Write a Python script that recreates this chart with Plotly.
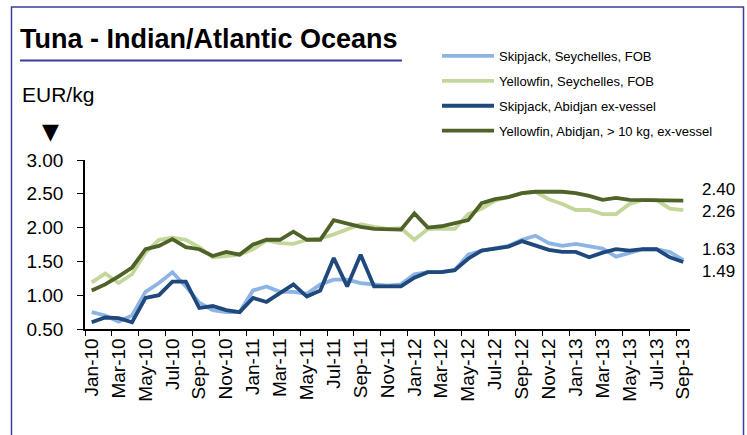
import plotly.graph_objects as go

months = ["Jan-10","Feb-10","Mar-10","Apr-10","May-10","Jun-10","Jul-10","Aug-10","Sep-10","Oct-10","Nov-10","Dec-10",
          "Jan-11","Feb-11","Mar-11","Apr-11","May-11","Jun-11","Jul-11","Aug-11","Sep-11","Oct-11","Nov-11","Dec-11",
          "Jan-12","Feb-12","Mar-12","Apr-12","May-12","Jun-12","Jul-12","Aug-12","Sep-12","Oct-12","Nov-12","Dec-12",
          "Jan-13","Feb-13","Mar-13","Apr-13","May-13","Jun-13","Jul-13","Aug-13","Sep-13"]

skipjack_seychelles = [0.75,0.70,0.61,0.70,1.05,1.18,1.34,1.13,0.89,0.78,0.75,0.75,
                       1.07,1.13,1.05,1.05,1.02,1.16,1.23,1.23,1.18,1.16,1.14,1.16,
                       1.31,1.34,1.34,1.37,1.60,1.66,1.69,1.73,1.82,1.88,1.77,1.73,
                       1.76,1.73,1.69,1.57,1.63,1.68,1.68,1.64,1.52]
yellowfin_seychelles = [1.19,1.32,1.18,1.31,1.63,1.82,1.85,1.82,1.71,1.56,1.58,1.60,
                        1.68,1.81,1.77,1.76,1.82,1.84,1.90,1.98,2.05,2.01,1.98,1.99,
                        1.82,1.98,1.98,1.98,2.20,2.28,2.40,2.45,2.51,2.53,2.42,2.35,
                        2.26,2.26,2.20,2.20,2.35,2.41,2.41,2.28,2.26]
skipjack_abidjan = [0.60,0.67,0.66,0.60,0.96,1.00,1.20,1.20,0.81,0.84,0.78,0.75,
                    0.96,0.90,1.03,1.16,0.98,1.07,1.55,1.13,1.60,1.13,1.13,1.13,
                    1.26,1.34,1.34,1.37,1.54,1.66,1.69,1.72,1.80,1.73,1.67,1.64,
                    1.64,1.56,1.63,1.68,1.66,1.68,1.68,1.56,1.49]
yellowfin_abidjan = [1.07,1.16,1.28,1.41,1.68,1.73,1.83,1.71,1.68,1.58,1.64,1.60,
                     1.75,1.82,1.82,1.94,1.82,1.82,2.11,2.06,2.01,1.98,1.97,1.97,
                     2.21,2.00,2.02,2.06,2.11,2.36,2.42,2.45,2.51,2.53,2.53,2.53,
                     2.51,2.47,2.41,2.44,2.41,2.41,2.41,2.41,2.40]

series_names = ["Skipjack, Seychelles, FOB", "Yellowfin, Seychelles, FOB",
                "Skipjack, Abidjan ex-vessel", "Yellowfin, Abidjan, > 10 kg, ex-vessel"]
series_values = [skipjack_seychelles, yellowfin_seychelles, skipjack_abidjan, yellowfin_abidjan]
series_colors = ["#8DB4E2", "#C4D79B", "#1F497D", "#4F6228"]

end_labels = ["2.40", "2.26", "1.63", "1.49"]
end_label_py = [189, 211, 249, 271.5]

W, H = 747, 435
L, R, T, B = 85, 57, 160, 106
PW, PH = W - L - R, H - T - B
FONT = "Liberation Sans, Arial, sans-serif"
FRAME = "#3C3C9C"

def px(x):
    return (x - L) / PW

def py(y):
    return (H - B - y) / PH

fig = go.Figure()
for i, (name, vals, col) in enumerate(zip(series_names, series_values, series_colors)):
    fig.add_trace(go.Scatter(x=months, y=vals, mode="lines", name=name,
                             legendgroup=f"g{i}",
                             line=dict(color=col, width=3.8)))

annotations = [
    dict(text="<b>Tuna - Indian/Atlantic Oceans</b>", xref="paper", yref="paper",
         x=px(18), y=py(39), xanchor="left", yanchor="middle", showarrow=False,
         font=dict(family=FONT, size=27, color="black")),
    dict(text="EUR/kg", xref="paper", yref="paper", x=px(20), y=py(94),
         xanchor="left", yanchor="middle", showarrow=False,
         font=dict(family=FONT, size=21, color="black")),
    dict(text="▼", xref="paper", yref="paper", x=px(50), y=py(131),
         xanchor="center", yanchor="middle", showarrow=False,
         font=dict(family="DejaVu Sans", size=22, color="black")),
]
for lab, yy in zip(end_labels, end_label_py):
    annotations.append(dict(text=lab, xref="paper", yref="paper", x=px(700), y=py(yy),
                            xanchor="left", yanchor="middle", showarrow=False,
                            font=dict(family=FONT, size=17, color="black")))

shapes = [
    dict(type="rect", xref="paper", yref="paper", x0=px(11.5), x1=px(743.5),
         y0=py(445), y1=py(7), line=dict(color=FRAME, width=1.5), layer="below"),
    dict(type="line", xref="paper", yref="paper", x0=px(20), x1=px(402),
         y0=py(60.5), y1=py(60.5), line=dict(color=FRAME, width=2)),
]

fig.update_layout(
    width=W, height=H,
    margin=dict(l=L, r=R, t=T, b=B, autoexpand=False),
    paper_bgcolor="white", plot_bgcolor="white",
    font=dict(family=FONT, color="black"),
    showlegend=True,
    legend=dict(xref="container", yref="container", x=437 / W, y=1 - 41 / H,
                xanchor="left", yanchor="top", bgcolor="rgba(0,0,0,0)",
                font=dict(family=FONT, size=13, color="black"),
                itemwidth=52, tracegroupgap=5, traceorder="grouped"),
    annotations=annotations,
    shapes=shapes,
)
fig.update_xaxes(type="category", range=[-0.5, 44.5], dtick=2, tickson="boundaries",
                 tickangle=-90, ticks="outside", ticklen=5, tickcolor="black",
                 showline=True, linecolor="black", linewidth=1.5, showgrid=False,
                 zeroline=False, automargin=False,
                 tickfont=dict(family=FONT, size=19, color="black"))
fig.update_yaxes(range=[0.5, 3.0], dtick=0.5, tick0=0.5, tickformat=".2f",
                 ticks="outside", ticklen=6, tickcolor="black", showline=True,
                 linecolor="black", linewidth=1.5, showgrid=False, zeroline=False,
                 ticklabelstandoff=10, automargin=False,
                 tickfont=dict(family=FONT, size=19, color="black"))

fig.write_html("out.html", config={"displayModeBar": False},
               post_script="document.body.style.margin='0';")
